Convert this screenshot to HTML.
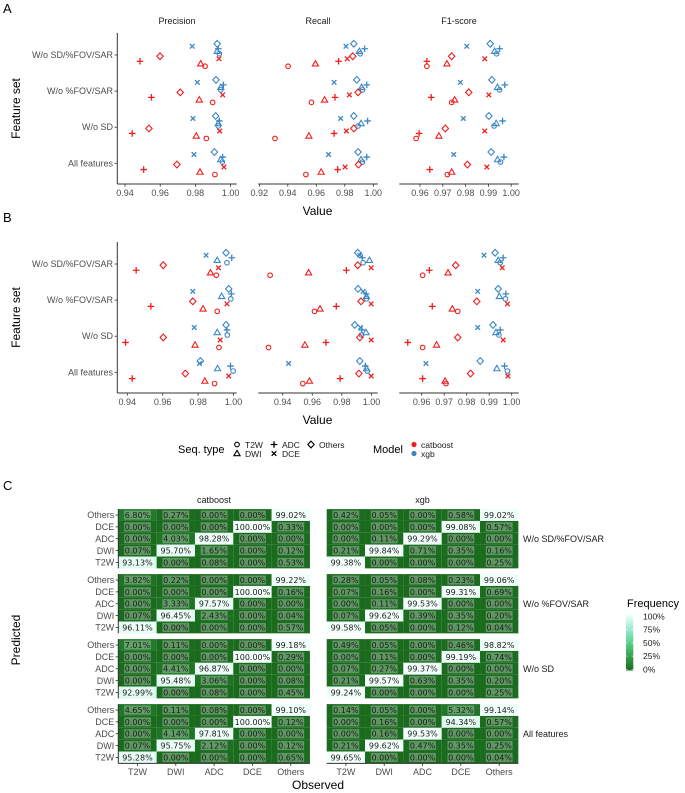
<!DOCTYPE html>
<html><head><meta charset="utf-8">
<style>
html,body{margin:0;padding:0;background:#fff;}
svg{display:block;font-family:"Liberation Sans",sans-serif;}
</style></head>
<body>
<svg id="fig" width="685" height="793" viewBox="0 0 685 793" xmlns="http://www.w3.org/2000/svg"></svg>
<script>
// ---------- Data: panels A & B ----------
const featureSets = ["W/o SD/%FOV/SAR","W/o %FOV/SAR","W/o SD","All features"];
const metrics = ["Precision","Recall","F1-score"];
const models = ["xgb","catboost"];
const seqTypes = ["Others","DCE","ADC","DWI","T2W"];
// values[row][seq] per model; seq order Others,DCE,ADC,DWI,T2W
const A_prec_xgb = [[0.9924,0.9782,0.9930,0.9924,0.9936],[0.9917,0.9811,0.9959,0.9944,0.9944],[0.9915,0.9786,0.9936,0.9930,0.9930],[0.9908,0.9792,0.9955,0.9944,0.9953]];
const A_prec_cat = [[0.9599,0.9934,0.9485,0.9830,0.9855],[0.9714,0.9955,0.9550,0.9822,0.9898],[0.9536,0.9938,0.9441,0.9805,0.9862],[0.9695,0.9962,0.9506,0.9826,0.9911]];
const A_rec_xgb = [[0.9863,0.9808,0.9939,0.9902,0.9908],[0.9884,0.9725,0.9954,0.9918,0.9924],[0.9863,0.9771,0.9960,0.9914,0.9893],[0.9893,0.9686,0.9954,0.9914,0.9924]];
const A_rec_cat = [[0.9856,0.9817,0.9756,0.9594,0.9402],[0.9893,0.9832,0.9731,0.9658,0.9566],[0.9863,0.9811,0.9725,0.9548,0.9310],[0.9896,0.9802,0.9750,0.9634,0.9527]];
const A_f1_xgb = [[0.9908,0.9805,0.9949,0.9927,0.9936],[0.9915,0.9777,0.9972,0.9940,0.9949],[0.9902,0.9790,0.9962,0.9934,0.9925],[0.9912,0.9748,0.9968,0.9940,0.9953]];
const A_f1_cat = [[0.9739,0.9884,0.9630,0.9718,0.9630],[0.9814,0.9902,0.9649,0.9752,0.9739],[0.9711,0.9884,0.9596,0.9683,0.9583],[0.9808,0.9893,0.9643,0.9739,0.9720]];
const B_prec_xgb = [[0.9958,0.9845,0.9990,0.9908,0.9963],[0.9973,0.9770,0.9988,0.9933,0.9985],[0.9958,0.9778,0.9963,0.9908,0.9965],[0.9813,0.9808,0.9983,0.9910,0.9998]];
const B_prec_cat = [[0.9603,0.9915,0.9450,0.9870,0.9903],[0.9770,0.9963,0.9533,0.9828,0.9908],[0.9603,0.9925,0.9390,0.9783,0.9918],[0.9728,0.9973,0.9428,0.9838,0.9893]];
const B_rec_xgb = [[0.9907,0.9921,0.9938,0.9986,0.9943],[0.9909,0.9943,0.9963,0.9966,0.9966],[0.9887,0.9926,0.9935,0.9963,0.9932],[0.9921,0.9440,0.9958,0.9966,0.9972]];
const B_rec_cat = [[0.9907,0.9998,0.9830,0.9575,0.9315],[0.9929,0.9998,0.9762,0.9652,0.9615],[0.9921,0.9998,0.9692,0.9550,0.9304],[0.9915,0.9998,0.9788,0.9581,0.9536]];
const B_f1_xgb = [[0.9926,0.9877,0.9962,0.9940,0.9949],[0.9940,0.9849,0.9974,0.9945,0.9972],[0.9917,0.9849,0.9949,0.9930,0.9943],[0.9860,0.9619,0.9968,0.9934,0.9981]];
const B_f1_cat = [[0.9751,0.9958,0.9634,0.9717,0.9604],[0.9845,0.9981,0.9647,0.9736,0.9760],[0.9760,0.9962,0.9538,0.9666,0.9604],[0.9817,0.9983,0.9604,0.9704,0.9708]];
const A_prec_ticks = [0.94,0.96,0.98,1.00];
const A_rec_ticks = [0.92,0.94,0.96,0.98,1.00];
const A_f1_ticks = [0.96,0.97,0.98,0.99,1.00];
const B_prec_ticks = [0.94,0.96,0.98,1.00];
const B_rec_ticks = [0.94,0.96,0.98,1.00];
const B_f1_ticks = [0.96,0.97,0.98,0.99,1.00];

// ---------- Data: panel C ----------
const predRows = ["Others","DCE","ADC","DWI","T2W"];
const obsCols = ["T2W","DWI","ADC","DCE","Others"];
const blockNames = ["W/o SD/%FOV/SAR","W/o %FOV/SAR","W/o SD","All features"];
const C_cat_b1 = [[6.80,0.27,0.00,0.00,99.02],[0.00,0.00,0.00,100.00,0.33],[0.00,4.03,98.28,0.00,0.00],[0.07,95.70,1.65,0.00,0.12],[93.13,0.00,0.08,0.00,0.53]];
const C_xgb_b1 = [[0.42,0.05,0.00,0.58,99.02],[0.00,0.00,0.00,99.08,0.57],[0.00,0.11,99.29,0.00,0.00],[0.21,99.84,0.71,0.35,0.16],[99.38,0.00,0.00,0.00,0.25]];
const C_cat_b2 = [[3.82,0.22,0.00,0.00,99.22],[0.00,0.00,0.00,100.00,0.16],[0.00,3.33,97.57,0.00,0.00],[0.07,96.45,2.43,0.00,0.04],[96.11,0.00,0.00,0.00,0.57]];
const C_xgb_b2 = [[0.28,0.05,0.08,0.23,99.06],[0.07,0.16,0.00,99.31,0.69],[0.00,0.11,99.53,0.00,0.00],[0.07,99.62,0.39,0.35,0.20],[99.58,0.05,0.00,0.12,0.04]];
const C_cat_b3 = [[7.01,0.11,0.00,0.00,99.18],[0.00,0.00,0.00,100.00,0.29],[0.00,4.41,96.87,0.00,0.00],[0.00,95.48,3.06,0.00,0.08],[92.99,0.00,0.08,0.00,0.45]];
const C_xgb_b3 = [[0.49,0.05,0.00,0.46,98.82],[0.00,0.11,0.00,99.19,0.74],[0.07,0.27,99.37,0.00,0.00],[0.21,99.57,0.63,0.35,0.20],[99.24,0.00,0.00,0.00,0.25]];
const C_cat_b4 = [[4.65,0.11,0.08,0.00,99.10],[0.00,0.00,0.00,100.00,0.12],[0.00,4.14,97.81,0.00,0.00],[0.07,95.75,2.12,0.00,0.12],[95.28,0.00,0.00,0.00,0.65]];
const C_xgb_b4 = [[0.14,0.05,0.00,5.32,99.14],[0.00,0.16,0.00,94.34,0.57],[0.00,0.16,99.53,0.00,0.00],[0.21,99.62,0.47,0.35,0.25],[99.65,0.00,0.00,0.00,0.04]];
const legendTicks = ["100%","75%","50%","25%","0%"];

// ---------- Drawing ----------
const NS="http://www.w3.org/2000/svg";
const svg=document.getElementById('fig');
function mk(tag,attrs,parent){const e=document.createElementNS(NS,tag);for(const k in attrs)e.setAttribute(k,attrs[k]);(parent||svg).appendChild(e);return e;}
function txt(s,x,y,size,fill,anchor,parent,extra){const t=mk('text',Object.assign({x:x,y:y,'font-size':size,fill:fill,'text-anchor':anchor||'start'},extra||{}),parent);t.textContent=s;return t;}
const RED="#f01d1d",BLUE="#3b86c6";

function shape(g,seq,cx,cy,col){
  const sw=1.1,r=2.7;let e;
  if(seq==="T2W"){e=mk('circle',{cx:cx,cy:cy,r:2.3,fill:'none',stroke:col,'stroke-width':sw},g);}
  else if(seq==="DWI"){e=mk('path',{d:`M${cx},${cy-3.2}L${cx+3.1},${cy+2.2}L${cx-3.1},${cy+2.2}Z`,fill:'none',stroke:col,'stroke-width':sw},g);}
  else if(seq==="ADC"){e=mk('path',{d:`M${cx-r-0.6},${cy}H${cx+r+0.6}M${cx},${cy-r-0.6}V${cy+r+0.6}`,fill:'none',stroke:col,'stroke-width':1.3},g);}
  else if(seq==="DCE"){e=mk('path',{d:`M${cx-2.3},${cy-2.3}L${cx+2.3},${cy+2.3}M${cx-2.3},${cy+2.3}L${cx+2.3},${cy-2.3}`,fill:'none',stroke:col,'stroke-width':1.3},g);}
  else {e=mk('path',{d:`M${cx},${cy-3.4}L${cx+3.2},${cy}L${cx},${cy+3.4}L${cx-3.2},${cy}Z`,fill:'none',stroke:col,'stroke-width':sw},g);}
  return e;
}

function scatterPanel(label,yOff,panels,showTitles){
  const top=33+yOff,bottom=184+yOff;
  const rows0=55+yOff,rowStep=36.1;
  const pg=mk('g',{});
  
  
  txt(label,3,yOff+13,13,'#000','start',pg);
  const yt=txt('Feature set',0,0,12,'#000','middle',pg,{transform:`translate(20,${(top+bottom)/2}) rotate(-90)`});
  
  const xt=txt('Value',317.5,bottom+31,12,'#000','middle',pg);
  
  featureSets.forEach((f,i)=>{
    const y=rows0+i*rowStep;
    const t=txt(f,113,y+3,9,'#4d4d4d','end',pg);
    
    mk('line',{x1:114.5,x2:117.3,y1:y,y2:y,stroke:'#333','stroke-width':0.8},pg);
  });
  panels.forEach((p,pi)=>{
    const g=mk('g',{},pg);
    
    
    const xs=v=>p.x0+(v-p.t0)*p.k*100;
    if(pi===0) mk('line',{x1:p.left,x2:p.left,y1:top,y2:bottom,stroke:'#333','stroke-width':1},g);
    mk('line',{x1:p.left,x2:p.left+119.4,y1:bottom,y2:bottom,stroke:'#333','stroke-width':1},g);
    if(showTitles){const tt=txt(metrics[pi],p.left+59.7,24,9,'#1a1a1a','middle',g);}
    p.ticks.forEach(tv=>{
      const x=xs(tv);
      mk('line',{x1:x,x2:x,y1:bottom,y2:bottom+2.7,stroke:'#333','stroke-width':0.8},g);
      const tl=txt(tv.toFixed(2),x,bottom+12,9,'#4d4d4d','middle',g);
      
    });
    [p.xgb,p.cat].forEach((arr,mi)=>{
      const col=mi===0?BLUE:RED;
      arr.forEach((row,ri)=>{
        row.forEach((v,si)=>{
          const idx=mi*5+si;
          const cy=rows0+ri*rowStep+(idx-4.5)*2.5;
          const e=shape(g,seqTypes[si],xs(v),cy,col);
          
          
        });
      });
    });
  });
}
scatterPanel('A',0,[
  {left:117.3,x0:125,t0:0.94,k:17.6,ticks:A_prec_ticks,xgb:A_prec_xgb,cat:A_prec_cat},
  {left:258.3,x0:259.3,t0:0.92,k:14.25,ticks:A_rec_ticks,xgb:A_rec_xgb,cat:A_rec_cat},
  {left:399.3,x0:420,t0:0.96,k:22.8,ticks:A_f1_ticks,xgb:A_f1_xgb,cat:A_f1_cat}],true);
scatterPanel('B',209,[
  {left:117.3,x0:127.3,t0:0.94,k:17.7,ticks:B_prec_ticks,xgb:B_prec_xgb,cat:B_prec_cat},
  {left:258.3,x0:282.7,t0:0.94,k:14.8,ticks:B_rec_ticks,xgb:B_rec_xgb,cat:B_rec_cat},
  {left:399.3,x0:421.7,t0:0.96,k:22.5,ticks:B_f1_ticks,xgb:B_f1_xgb,cat:B_f1_cat}],false);

// legend for A/B
const lg=mk('g',{});


txt('Seq. type',178,453,11,'#000','start',lg);
[["T2W",237,445],["DWI",237,454],["ADC",274,445],["DCE",274,454],["Others",311,445]].forEach(d=>{
  const e=shape(lg,d[0],d[1],d[2]-0.5,'#000');
  
  
  txt(d[0],d[1]+8,d[2]+3,8.5,'#1a1a1a','start',lg);
});
txt('Model',373,453,11,'#000','start',lg);
mk('circle',{cx:414,cy:444.5,r:2.6,fill:RED},lg);
mk('circle',{cx:414,cy:453.5,r:2.6,fill:BLUE},lg);
txt('catboost',421,448,8.5,'#1a1a1a','start',lg);
txt('xgb',421,457,8.5,'#1a1a1a','start',lg);

// ---------- Panel C heatmap ----------
const stops=[[0,[27,107,31]],[0.25,[53,160,76]],[0.5,[92,208,140]],[0.75,[160,236,210]],[1,[240,255,250]]];
function colorOf(p){const t=Math.max(0,Math.min(1,p/100));for(let i=1;i<stops.length;i++){if(t<=stops[i][0]){const a=stops[i-1],b=stops[i];const f=(t-a[0])/(b[0]-a[0]);const c=a[1].map((v,j)=>Math.round(v+(b[1][j]-v)*f));return `rgb(${c[0]},${c[1]},${c[2]})`;}}return 'rgb(240,255,250)';}
const cg=mk('g',{});


txt('C',3,490,13,'#000','start',cg);
const pl=txt('Predicted',0,0,12,'#000','middle',cg,{transform:`translate(20,640) rotate(-90)`});

const ob=txt('Observed',318,789,12,'#000','middle',cg);

const blocks=[[C_cat_b1,C_xgb_b1],[C_cat_b2,C_xgb_b2],[C_cat_b3,C_xgb_b3],[C_cat_b4,C_xgb_b4]];
const colW=38.33,rowH=11.85,blockTop0=509.1,blockStep=65;
const lefts=[118.3,326.7];
txt('catboost',214,503,9,'#1a1a1a','middle',cg);
txt('xgb',422.5,503,9,'#1a1a1a','middle',cg);
blocks.forEach((bl,bi)=>{
  const top=blockTop0+bi*blockStep;
  bl.forEach((mat,mi)=>{
    const g=mk('g',{},cg);
    
    
    const left=lefts[mi];
    mat.forEach((row,ri)=>{
      row.forEach((v,ci)=>{
        const x=left+ci*colW,y=top+ri*rowH;
        const r=mk('rect',{x:x,y:y,width:colW,height:rowH,fill:colorOf(v)},g);
        
        
        const s=v.toFixed(2)+'%';
        const bw=s.length*4.95+2;
        mk('rect',{x:x+colW/2-bw/2,y:y+1.4,width:bw,height:rowH-2.8,fill:'rgba(255,255,255,0.3)'},g);
        const t=txt(s,x+colW/2,y+rowH/2+2.9,8,'#1a1a1a','middle',g,{'font-family':'DejaVu Sans, sans-serif'});
        
      });
    });
    if(mi===0){
      mk('line',{x1:left,x2:left,y1:top,y2:top+5*rowH,stroke:'#333','stroke-width':1},g);
      predRows.forEach((p,ri)=>{
        const y=top+ri*rowH+rowH/2;
        mk('line',{x1:left-2.7,x2:left,y1:y,y2:y,stroke:'#333','stroke-width':0.8},g);
        const t=txt(p,left-4,y+3.2,9,'#4d4d4d','end',g);
        
      });
    } else {
      const t=txt(blockNames[bi],523,top+2.5*rowH+3.2,9,'#1a1a1a','start',g);
      
    }
    if(bi===3){
      const yb=top+5*rowH;
      mk('line',{x1:left,x2:left+5*colW,y1:yb,y2:yb,stroke:'#333','stroke-width':1},g);
      obsCols.forEach((c,ci)=>{
        const x=left+ci*colW+colW/2;
        mk('line',{x1:x,x2:x,y1:yb,y2:yb+2.7,stroke:'#333','stroke-width':0.8},g);
        const t=txt(c,x,yb+11.5,9,'#4d4d4d','middle',g);
        
      });
    }
  });
});
// colorbar legend
const cl=mk('g',{});


txt('Frequency',627,607,11,'#000','start',cl);
const defs=mk('defs',{});
const grad=mk('linearGradient',{id:'fg',x1:0,y1:1,x2:0,y2:0},defs);
stops.forEach(s=>mk('stop',{offset:s[0],'stop-color':colorOf(s[0]*100)},grad));
mk('rect',{x:626,y:614.5,width:7.3,height:56,fill:'url(#fg)'},cl);
legendTicks.forEach((l,i)=>{
  const y=616.5+i*13.2;
  mk('line',{x1:626,x2:627.6,y1:y,y2:y,stroke:'#fff','stroke-width':0.6},cl);
  mk('line',{x1:631.7,x2:633.3,y1:y,y2:y,stroke:'#fff','stroke-width':0.6},cl);
  txt(l,643,y+3,8.5,'#1a1a1a','start',cl);
});
</script>
</body></html>
